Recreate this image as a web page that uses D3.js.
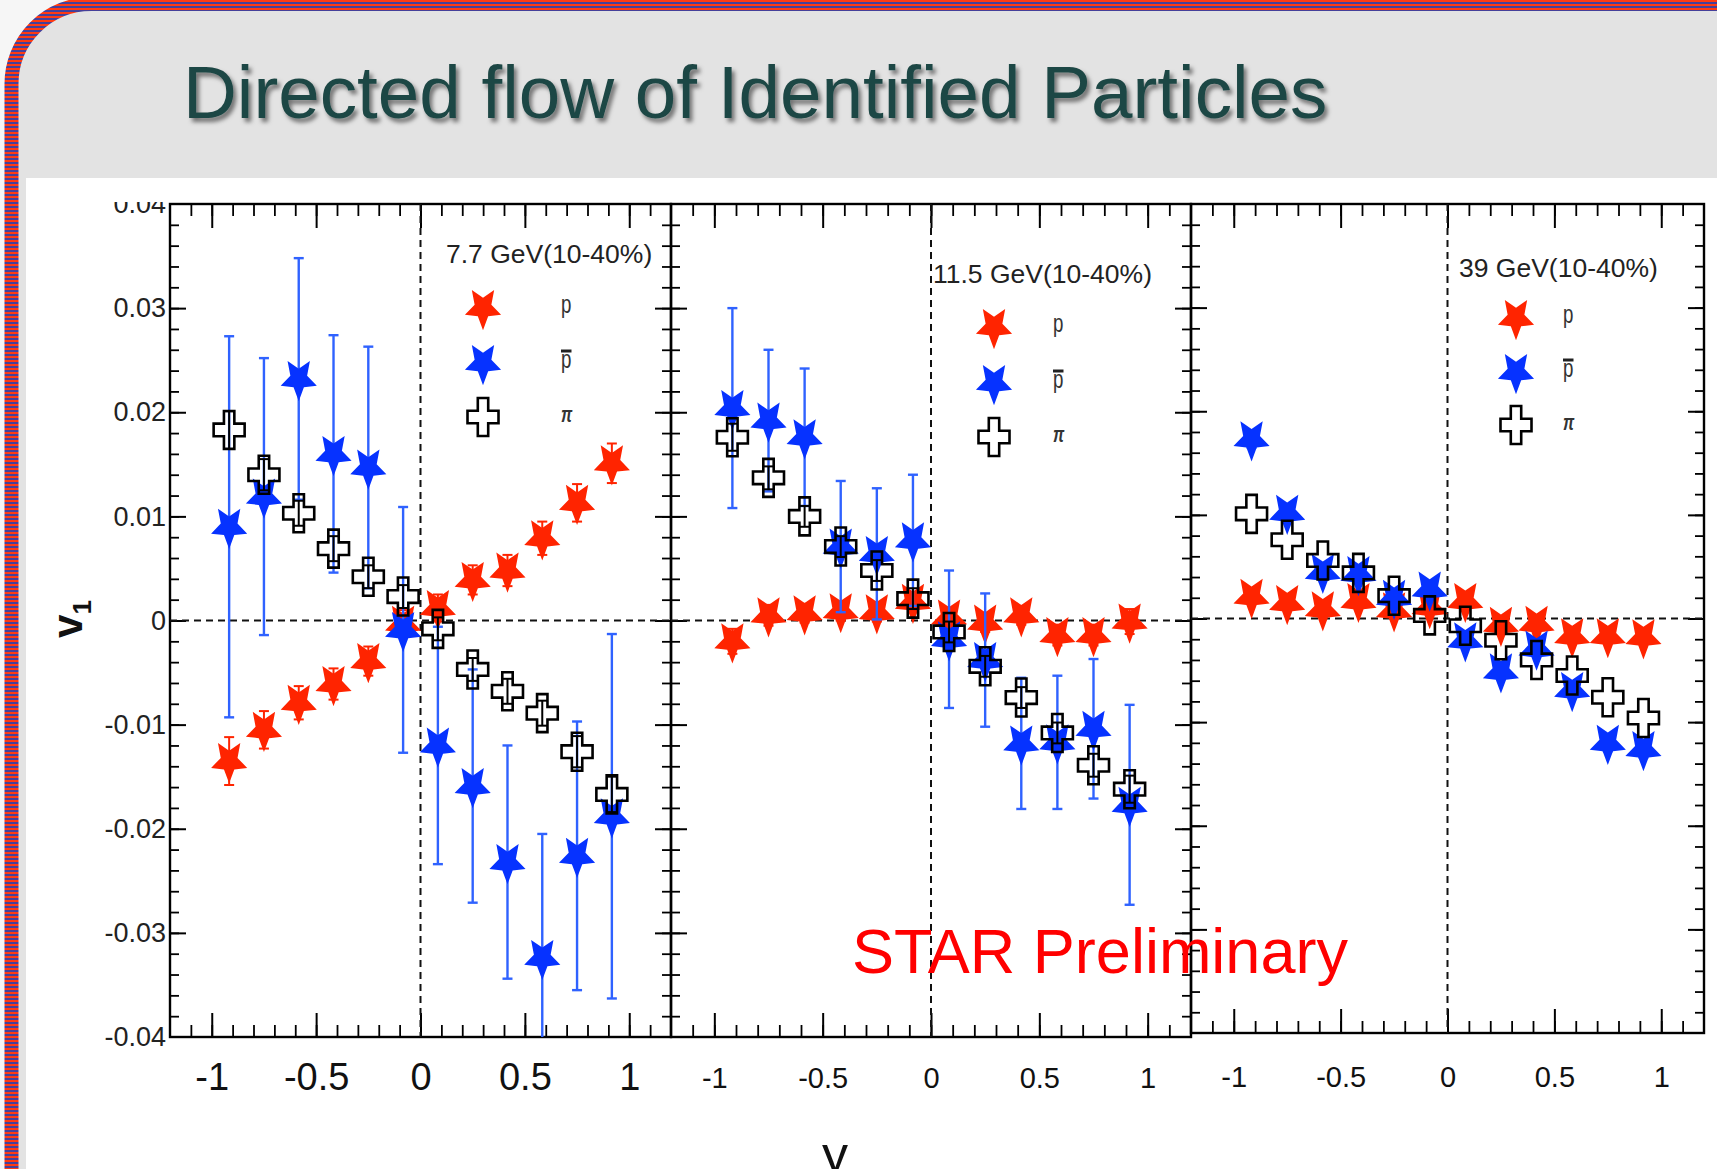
<!DOCTYPE html>
<html>
<head>
<meta charset="utf-8">
<script src="https://cdn.jsdelivr.net/npm/d3@7"></script>
<style>
  html, body { margin: 0; padding: 0; background: #f6f6f6; overflow: hidden; }
  svg { display: block; }
  text { font-family: "Liberation Sans", Arial, Helvetica, sans-serif; }
</style>
</head>
<body>
<script>
// ---- data ---------------------------------------------------------------
// rapidity bin centres (12 bins of width 1/6 between -1 and 1)
const rapidity = [-0.9167, -0.75, -0.5833, -0.4167, -0.25, -0.0833,
                  0.0833, 0.25, 0.4167, 0.5833, 0.75, 0.9167];

const energyLabels = ["7.7 GeV(10-40%)", "11.5 GeV(10-40%)", "39 GeV(10-40%)"];
const speciesLabels = ["p", "p\u0304", "\u03c0"];

const yTickValues = [0.04, 0.03, 0.02, 0.01, 0, -0.01, -0.02, -0.03, -0.04];
const yTickLabels = ["0.04", "0.03", "0.02", "0.01", "0", "-0.01", "-0.02", "-0.03", "-0.04"];
const xTickValues = [-1, -0.5, 0, 0.5, 1];
const xTickLabels = ["-1", "-0.5", "0", "0.5", "1"];

// 7.7 GeV
const proton77      = [-0.0135, -0.0105, -0.0079, -0.0061, -0.0039, -0.0003, 0.0012, 0.0039, 0.0048, 0.0079, 0.0113, 0.0151];
const proton77Err   = [0.0023, 0.0018, 0.0016, 0.0015, 0.0014, 0.0013, 0.0013, 0.0014, 0.0015, 0.0016, 0.0018, 0.0019];
const antiproton77  = [0.0090, 0.0119, 0.0232, 0.0160, 0.0147, -0.0009, -0.0120, -0.0159, -0.0232, -0.0324, -0.0226, -0.0188];
const antiproton77Err = [0.0183, 0.0133, 0.0116, 0.0114, 0.0116, 0.0118, 0.0114, 0.0112, 0.0112, 0.0119, 0.0129, 0.0175];
const pion77        = [0.0183, 0.0140, 0.0103, 0.0069, 0.0042, 0.0023, -0.0008, -0.0047, -0.0068, -0.0089, -0.0126, -0.0167];
const pion77Err     = [0.0018, 0.0015, 0.0012, 0.0012, 0.0011, 0.0011, 0.0011, 0.0011, 0.0012, 0.0012, 0.0015, 0.0017];

// 11.5 GeV
const proton115     = [-0.0020, 0.0005, 0.0007, 0.0009, 0.0008, 0.0018, 0.0003, -0.0002, 0.0005, -0.0014, -0.0014, -0.0001];
const proton115Err  = [0.0012, 0.0010, 0.0009, 0.0009, 0.0009, 0.0009, 0.0009, 0.0009, 0.0009, 0.0010, 0.0010, 0.0012];
const antiproton115 = [0.0204, 0.0192, 0.0176, 0.0071, 0.0064, 0.0077, -0.0018, -0.0038, -0.0118, -0.0117, -0.0104, -0.0177];
const antiproton115Err = [0.0096, 0.0068, 0.0066, 0.0063, 0.0063, 0.0063, 0.0066, 0.0064, 0.0063, 0.0064, 0.0067, 0.0096];
const pion115       = [0.0176, 0.0137, 0.0100, 0.0071, 0.0048, 0.0021, -0.0011, -0.0044, -0.0074, -0.0108, -0.0139, -0.0162];
const pion115Err    = [0.0013, 0.0011, 0.0010, 0.0010, 0.0010, 0.0010, 0.0010, 0.0010, 0.0010, 0.0010, 0.0011, 0.0013];

// 39 GeV
const proton39      = [0.0021, 0.0015, 0.0009, 0.0017, 0.0008, 0.0011, 0.0017, -0.0006, -0.0005, -0.0017, -0.0017, -0.0018];
const proton39Err   = [0.0005, 0.0005, 0.0004, 0.0004, 0.0004, 0.0004, 0.0004, 0.0004, 0.0004, 0.0004, 0.0005, 0.0005];
const antiproton39  = [0.0173, 0.0102, 0.0045, 0.0043, 0.0020, 0.0028, -0.0021, -0.0051, -0.0029, -0.0069, -0.0120, -0.0126];
const antiproton39Err = [0.0008, 0.0008, 0.0007, 0.0007, 0.0007, 0.0007, 0.0007, 0.0007, 0.0007, 0.0007, 0.0008, 0.0008];
const pion39        = [0.0101, 0.0076, 0.0056, 0.0044, 0.0022, 0.0003, -0.0007, -0.0021, -0.0040, -0.0055, -0.0076, -0.0096];
const pion39Err     = [0.0003, 0.0003, 0.0003, 0.0003, 0.0003, 0.0003, 0.0003, 0.0003, 0.0003, 0.0003, 0.0003, 0.0003];

// ---- page ---------------------------------------------------------------
const W = 1717, H = 1169;
const RED = "#ff2400", BLUE = "#0632ff", BLUE_ERR = "#2f62ff";

const svg = d3.select("body").append("svg").attr("width", W).attr("height", H);
const defs = svg.append("defs");

// red / blue pinstripe used for the slide border
const stripes = defs.append("pattern").attr("id", "stripes")
  .attr("patternUnits", "userSpaceOnUse").attr("width", 8).attr("height", 4);
stripes.append("rect").attr("width", 8).attr("height", 2).attr("fill", "#ff3a12");
stripes.append("rect").attr("y", 2).attr("width", 8).attr("height", 2).attr("fill", "#45409a");

const shadow = defs.append("filter").attr("id", "titleShadow")
  .attr("x", "-5%").attr("y", "-20%").attr("width", "110%").attr("height", "160%");
shadow.append("feDropShadow").attr("dx", 3).attr("dy", 4).attr("stdDeviation", 2.2)
  .attr("flood-color", "#000").attr("flood-opacity", 0.5);

// slide background: grey card with a striped rounded border, white content area
svg.append("rect").attr("x", 11.5).attr("y", 4).attr("width", W + 300).attr("height", H + 300)
  .attr("rx", 80).attr("fill", "#e3e3e3")
  .attr("stroke", "url(#stripes)").attr("stroke-width", 14);
svg.append("rect").attr("x", 26).attr("y", 178).attr("width", W).attr("height", H).attr("fill", "#fff");

svg.append("text").attr("x", 183).attr("y", 118)
  .attr("font-size", 74.6).attr("fill", "#1e4644").attr("filter", "url(#titleShadow)")
  .text("Directed flow of Identified Particles");

// ---- panels -------------------------------------------------------------
const panels = [
  { left: 170, right: 671, top: 204, bottom: 1037,
    label: energyLabels[0], titleX: 446, titleY: 263, markX: 483, textX: 561, legY: [308, 363, 417],
    tickFont: 38, tickPad: 26, yLabels: true,
    series: [[proton77, proton77Err], [antiproton77, antiproton77Err], [pion77, pion77Err]] },
  { left: 671, right: 1191, top: 204, bottom: 1037,
    label: energyLabels[1], titleX: 933, titleY: 283, markX: 994, textX: 1053, legY: [327, 383, 437],
    tickFont: 29, tickPad: 30, yLabels: false,
    series: [[proton115, proton115Err], [antiproton115, antiproton115Err], [pion115, pion115Err]] },
  { left: 1191, right: 1704, top: 204, bottom: 1033,
    label: energyLabels[2], titleX: 1459, titleY: 277, markX: 1516, textX: 1563, legY: [318, 372, 425],
    tickFont: 29, tickPad: 33, yLabels: false,
    series: [[proton39, proton39Err], [antiproton39, antiproton39Err], [pion39, pion39Err]] }
];

const minorX = d3.range(-11, 12).map(i => i / 10);
const minorY = d3.range(-19, 20).map(i => i * 0.002);
const majorY = d3.range(-3, 4).map(i => i * 0.01);

// five-pointed star with one point downwards (fat arms)
const starRadii = d3.range(10).map(k => (k % 2 ? 8.8 : 19));
const starPath = d3.lineRadial()
  .angle((d, k) => Math.PI + k * Math.PI / 5)
  .radius(d => d)
  .curve(d3.curveLinearClosed)(starRadii);

// open cross marker (outline of a plus sign)
function crossPath(a, b, tx, ty) {
  return `M${-tx},${-b}H${tx}V${-ty}H${a}V${ty}H${tx}V${b}H${-tx}V${ty}H${-a}V${-ty}H${-tx}Z`;
}
const crossD = crossPath(15.5, 19, 5.2, 6.3);

function tickAxis(g, axis, values, size, width) {
  g.call(axis.tickValues(values).tickSize(size).tickSizeOuter(0).tickFormat(""));
  g.select(".domain").remove();
  g.selectAll(".tick line").attr("stroke", "#000").attr("stroke-width", width);
}

function drawMarker(g, kind, x, y) {
  if (kind === 2) {
    g.append("path").attr("d", crossD).attr("transform", `translate(${x},${y})`)
      .attr("fill", "none").attr("stroke", "#000").attr("stroke-width", 2.6);
  } else {
    g.append("path").attr("d", starPath).attr("transform", `translate(${x},${y}) scale(1,1.17)`)
      .attr("fill", kind === 0 ? RED : BLUE);
  }
}

panels.forEach((P, pi) => {
  const x = d3.scaleLinear().domain([-1.2, 1.2]).range([P.left, P.right]);
  const y = d3.scaleLinear().domain([-0.04, 0.04]).range([P.bottom, P.top]);
  const g = svg.append("g");

  const clipId = "clip" + pi;
  defs.append("clipPath").attr("id", clipId).append("rect")
    .attr("x", P.left).attr("y", P.top).attr("width", P.right - P.left).attr("height", P.bottom - P.top);

  // frame ticks, all pointing inwards
  tickAxis(g.append("g").attr("transform", `translate(0,${P.bottom})`), d3.axisBottom(x), minorX, -12, 1.8);
  tickAxis(g.append("g").attr("transform", `translate(0,${P.bottom})`), d3.axisBottom(x), xTickValues, -24, 2);
  tickAxis(g.append("g").attr("transform", `translate(0,${P.top})`), d3.axisTop(x), minorX, -12, 1.8);
  tickAxis(g.append("g").attr("transform", `translate(0,${P.top})`), d3.axisTop(x), xTickValues, -24, 2);
  tickAxis(g.append("g").attr("transform", `translate(${P.left},0)`), d3.axisLeft(y), minorY, -9, 1.8);
  tickAxis(g.append("g").attr("transform", `translate(${P.left},0)`), d3.axisLeft(y), majorY, -16, 2);
  tickAxis(g.append("g").attr("transform", `translate(${P.right},0)`), d3.axisRight(y), minorY, -9, 1.8);
  tickAxis(g.append("g").attr("transform", `translate(${P.right},0)`), d3.axisRight(y), majorY, -16, 2);

  g.append("rect").attr("x", P.left).attr("y", P.top)
    .attr("width", P.right - P.left).attr("height", P.bottom - P.top)
    .attr("fill", "none").attr("stroke", "#000").attr("stroke-width", 2.4);

  // x tick labels
  const xl = g.append("g").attr("transform", `translate(0,${P.bottom})`)
    .call(d3.axisBottom(x).tickValues(xTickValues).tickSize(0).tickPadding(P.tickPad)
      .tickFormat((d, i) => xTickLabels[i]));
  xl.select(".domain").remove();
  xl.attr("font-family", null).attr("font-size", P.tickFont).attr("color", "#111");

  // y tick labels on the first panel only (the top label is trimmed by the plot edge)
  if (P.yLabels) {
    defs.append("clipPath").attr("id", "ylabClip").append("rect")
      .attr("x", -200).attr("y", 202).attr("width", 200).attr("height", 900);
    const yl = g.append("g").attr("transform", `translate(${P.left},0)`).attr("clip-path", "url(#ylabClip)")
      .call(d3.axisLeft(y).tickValues(yTickValues).tickSize(0).tickPadding(4)
        .tickFormat((d, i) => yTickLabels[i]));
    yl.select(".domain").remove();
    yl.attr("font-family", null).attr("font-size", 27).attr("color", "#222");
  }

  // zero reference lines
  g.append("line").attr("x1", P.left).attr("x2", P.right).attr("y1", y(0)).attr("y2", y(0))
    .attr("stroke", "#111").attr("stroke-width", 2).attr("stroke-dasharray", "7,5");
  g.append("line").attr("x1", x(0)).attr("x2", x(0)).attr("y1", P.top).attr("y2", P.bottom)
    .attr("stroke", "#111").attr("stroke-width", 2).attr("stroke-dasharray", "7,5");

  // data: protons, antiprotons, pions (bars shorter than the marker stay hidden)
  const dataG = g.append("g");
  P.series.forEach(([vals, errs], k) => {
    const col = k === 0 ? RED : k === 1 ? BLUE_ERR : "#000";
    const eg = dataG.append("g").attr("clip-path", `url(#${clipId})`)
      .attr("stroke", col).attr("stroke-width", k === 1 ? 2.4 : 2);
    vals.forEach((v, i) => {
      const xi = x(rapidity[i]), y1 = y(v + errs[i]), y2 = y(v - errs[i]);
      if (y2 - y1 < 16) return;
      eg.append("line").attr("x1", xi).attr("x2", xi).attr("y1", y1).attr("y2", y2);
      eg.append("line").attr("x1", xi - 5).attr("x2", xi + 5).attr("y1", y1).attr("y2", y1);
      eg.append("line").attr("x1", xi - 5).attr("x2", xi + 5).attr("y1", y2).attr("y2", y2);
    });
    vals.forEach((v, i) => drawMarker(dataG, k, x(rapidity[i]), y(v)));
  });

  // legend
  g.append("text").attr("x", P.titleX).attr("y", P.titleY)
    .attr("font-size", 26.5).attr("fill", "#222").text(P.label);
  speciesLabels.forEach((s, k) => {
    drawMarker(g, k, P.markX, P.legY[k]);
    const base = P.legY[k] + 5;
    g.append("text")
      .attr("transform", `translate(${P.textX},${base}) scale(0.72,1)`)
      .attr("font-size", k === 2 ? 22 : 26).attr("font-style", k === 2 ? "italic" : null)
      .attr("font-weight", k === 2 ? "bold" : null)
      .attr("fill", "#333").text(s);
    if (k === 1) {
      // heavier bar over the antiproton symbol
      g.append("line").attr("x1", P.textX).attr("x2", P.textX + 10.5)
        .attr("y1", base - 17).attr("y2", base - 17)
        .attr("stroke", "#222").attr("stroke-width", 3);
    }
  });
});

// axis titles and watermark
svg.append("text").attr("transform", "translate(82,619) rotate(-90)")
  .attr("text-anchor", "middle").attr("font-size", 42).attr("font-weight", "bold").attr("fill", "#111")
  .call(t => {
    t.append("tspan").text("v");
    t.append("tspan").attr("font-size", 26).attr("dy", 9).text("1");
  });

svg.append("text").attr("x", 835).attr("y", 1172).attr("text-anchor", "middle")
  .attr("font-size", 52).attr("fill", "#111").text("y");

svg.append("text").attr("x", 852).attr("y", 973)
  .attr("font-size", 63).attr("fill", "#ff0000").text("STAR Preliminary");
</script>
</body>
</html>
